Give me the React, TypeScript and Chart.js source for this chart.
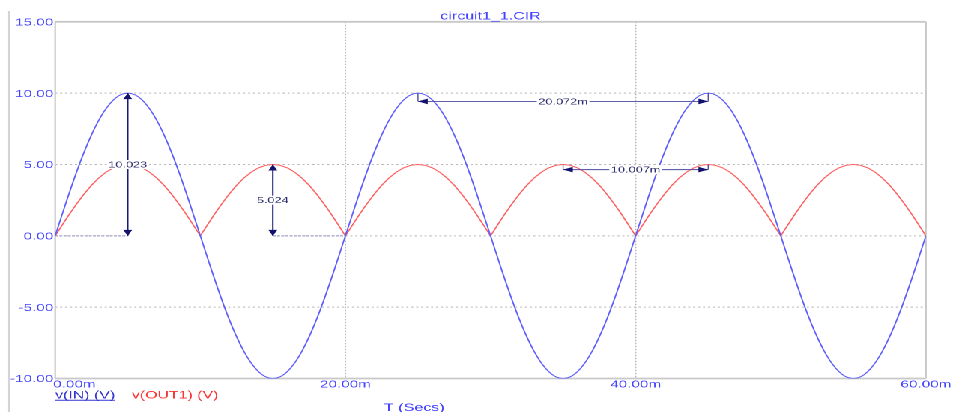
import React, { useEffect, useRef } from "react";
import { Chart, registerables } from "chart.js";
Chart.register(...registerables);

// ---- data (time in ms, voltages in V) ----
const TIME_MS = [
  0, 0.5, 1, 1.5, 2, 2.5, 3, 3.5, 4, 4.5, 5, 5.5, 6, 6.5, 7, 7.5, 8, 8.5, 9, 9.5,
  10, 10.5, 11, 11.5, 12, 12.5, 13, 13.5, 14, 14.5, 15, 15.5, 16, 16.5, 17, 17.5, 18, 18.5, 19, 19.5,
  20, 20.5, 21, 21.5, 22, 22.5, 23, 23.5, 24, 24.5, 25, 25.5, 26, 26.5, 27, 27.5, 28, 28.5, 29, 29.5,
  30, 30.5, 31, 31.5, 32, 32.5, 33, 33.5, 34, 34.5, 35, 35.5, 36, 36.5, 37, 37.5, 38, 38.5, 39, 39.5,
  40, 40.5, 41, 41.5, 42, 42.5, 43, 43.5, 44, 44.5, 45, 45.5, 46, 46.5, 47, 47.5, 48, 48.5, 49, 49.5,
  50, 50.5, 51, 51.5, 52, 52.5, 53, 53.5, 54, 54.5, 55, 55.5, 56, 56.5, 57, 57.5, 58, 58.5, 59, 59.5,
  60,
];

const V_IN = [
  0, 1.56, 3.09, 4.54, 5.88, 7.07, 8.09, 8.91, 9.51, 9.88, 10, 9.88, 9.51, 8.91, 8.09, 7.07, 5.88, 4.54, 3.09, 1.56,
  0, -1.56, -3.09, -4.54, -5.88, -7.07, -8.09, -8.91, -9.51, -9.88, -10, -9.88, -9.51, -8.91, -8.09, -7.07, -5.88, -4.54, -3.09, -1.56,
  0, 1.56, 3.09, 4.54, 5.88, 7.07, 8.09, 8.91, 9.51, 9.88, 10, 9.88, 9.51, 8.91, 8.09, 7.07, 5.88, 4.54, 3.09, 1.56,
  0, -1.56, -3.09, -4.54, -5.88, -7.07, -8.09, -8.91, -9.51, -9.88, -10, -9.88, -9.51, -8.91, -8.09, -7.07, -5.88, -4.54, -3.09, -1.56,
  0, 1.56, 3.09, 4.54, 5.88, 7.07, 8.09, 8.91, 9.51, 9.88, 10, 9.88, 9.51, 8.91, 8.09, 7.07, 5.88, 4.54, 3.09, 1.56,
  0, -1.56, -3.09, -4.54, -5.88, -7.07, -8.09, -8.91, -9.51, -9.88, -10, -9.88, -9.51, -8.91, -8.09, -7.07, -5.88, -4.54, -3.09, -1.56,
  0,
];

const V_OUT1 = [
  0, 0.78, 1.55, 2.27, 2.94, 3.54, 4.05, 4.46, 4.76, 4.94, 5, 4.94, 4.76, 4.46, 4.05, 3.54, 2.94, 2.27, 1.55, 0.78,
  0, 0.78, 1.55, 2.27, 2.94, 3.54, 4.05, 4.46, 4.76, 4.94, 5, 4.94, 4.76, 4.46, 4.05, 3.54, 2.94, 2.27, 1.55, 0.78,
  0, 0.78, 1.55, 2.27, 2.94, 3.54, 4.05, 4.46, 4.76, 4.94, 5, 4.94, 4.76, 4.46, 4.05, 3.54, 2.94, 2.27, 1.55, 0.78,
  0, 0.78, 1.55, 2.27, 2.94, 3.54, 4.05, 4.46, 4.76, 4.94, 5, 4.94, 4.76, 4.46, 4.05, 3.54, 2.94, 2.27, 1.55, 0.78,
  0, 0.78, 1.55, 2.27, 2.94, 3.54, 4.05, 4.46, 4.76, 4.94, 5, 4.94, 4.76, 4.46, 4.05, 3.54, 2.94, 2.27, 1.55, 0.78,
  0, 0.78, 1.55, 2.27, 2.94, 3.54, 4.05, 4.46, 4.76, 4.94, 5, 4.94, 4.76, 4.46, 4.05, 3.54, 2.94, 2.27, 1.55, 0.78,
  0,
];

const X_TICKS = [0, 20, 40, 60];
const X_TICK_LABELS = ["0.00m", "20.00m", "40.00m", "60.00m"];
const Y_TICKS = [15, 10, 5, 0, -5, -10];
const Y_TICK_LABELS = ["15.00", "10.00", "5.00", "0.00", "-5.00", "-10.00"];
const TITLE = "circuit1_1.CIR";
const X_TITLE = "T (Secs)";
const SERIES_NAMES = ["v(IN) (V)", "v(OUT1) (V)"];

// measurement cursors (data units)
const V_MEASURE_LABELS = ["10.023", "5.024"];
const V_MEASURE_X = [5, 15];
const V_MEASURE_FROM = [0, 0];
const V_MEASURE_TO = [10, 5];
const ZERO_REF_SEGMENTS = [[0, 5], [15, 20]];

const H_MEASURE_LABELS = ["20.072m", "10.007m"];
const H_MEASURE_Y = [9.42, 4.64];
const H_MEASURE_FROM = [25, 35];
const H_MEASURE_TO = [45, 45];
const H_MEASURE_PEAK = [10, 5];

// ---- layout ----
const CW = 636;
const CH = 412;
const SX = 953 / CW;
const FONT = "'Liberation Sans', Arial, sans-serif";
const TICK_COLOR = "#4242ff";

function line(ctx: CanvasRenderingContext2D, x1: number, y1: number, x2: number, y2: number) {
  ctx.beginPath();
  ctx.moveTo(x1, y1);
  ctx.lineTo(x2, y2);
  ctx.stroke();
}

function tri(ctx: CanvasRenderingContext2D, pts: number[][]) {
  ctx.beginPath();
  ctx.moveTo(pts[0][0], pts[0][1]);
  ctx.lineTo(pts[1][0], pts[1][1]);
  ctx.lineTo(pts[2][0], pts[2][1]);
  ctx.closePath();
  ctx.fill();
}

function boxedLabel(ctx: CanvasRenderingContext2D, text: string, cx: number, cy: number) {
  ctx.font = `8.5px ${FONT}`;
  const w = ctx.measureText(text).width;
  ctx.fillStyle = "#ffffff";
  ctx.fillRect(cx - w / 2 - 1, cy - 4.5, w + 2, 9);
  ctx.fillStyle = "#30306e";
  ctx.textAlign = "center";
  ctx.textBaseline = "alphabetic";
  ctx.fillText(text, cx, cy + 3);
}

const spicePlugin = {
  id: "spiceDecor",
  beforeDatasetsDraw(chart: any) {
    const { ctx, chartArea: a } = chart;
    const xs = chart.scales.x;
    const ys = chart.scales.y;
    ctx.save();
    // outer frame line
    ctx.strokeStyle = "#d4d4d4";
    ctx.lineWidth = 1.1;
    line(ctx, 6, 11, 6, CH);

    // horizontal dotted grid
    ctx.strokeStyle = "#b6b6b6";
    ctx.lineWidth = 1;
    ctx.setLineDash([1.4, 1.9]);
    for (const v of Y_TICKS) {
      if (v === Y_TICKS[0] || v === Y_TICKS[Y_TICKS.length - 1]) continue;
      const py = ys.getPixelForValue(v);
      if (v === 0) {
        line(ctx, xs.getPixelForValue(20), py, a.right, py);
      } else {
        line(ctx, a.left, py, a.right, py);
      }
    }
    // vertical dotted grid
    ctx.setLineDash([1.5, 1.5]);
    for (const v of X_TICKS) {
      if (v === X_TICKS[0] || v === X_TICKS[X_TICKS.length - 1]) continue;
      const px = xs.getPixelForValue(v);
      line(ctx, px, a.top, px, a.bottom);
    }
    // zero reference segments of the cursors
    ctx.strokeStyle = "#8a8ab6";
    ctx.setLineDash([2, 0.8]);
    const p0 = ys.getPixelForValue(0);
    for (const [s, e] of ZERO_REF_SEGMENTS) {
      line(ctx, xs.getPixelForValue(s), p0, xs.getPixelForValue(e), p0);
    }
    ctx.setLineDash([]);

    // plot frame
    ctx.strokeStyle = "#c8c8c8";
    ctx.lineWidth = 1.8;
    line(ctx, a.left, a.top, a.right, a.top);
    line(ctx, a.left, a.bottom, a.right, a.bottom);
    ctx.lineWidth = 1.1;
    line(ctx, a.left, a.top, a.left, a.bottom);
    line(ctx, a.right, a.top, a.right, a.bottom);
    ctx.restore();
  },
  afterDatasetsDraw(chart: any) {
    const { ctx, chartArea: a } = chart;
    const xs = chart.scales.x;
    const ys = chart.scales.y;
    ctx.save();

    // vertical measurement arrows
    for (let i = 0; i < V_MEASURE_X.length; i++) {
      const px = xs.getPixelForValue(V_MEASURE_X[i]);
      const pA = ys.getPixelForValue(V_MEASURE_FROM[i]);
      const pB = ys.getPixelForValue(V_MEASURE_TO[i]);
      ctx.strokeStyle = "#1a1a78";
      ctx.fillStyle = "#12126e";
      ctx.lineWidth = 1;
      line(ctx, px, pA, px, pB);
      tri(ctx, [[px, pB], [px - 3, pB + 6], [px + 3, pB + 6]]);
      tri(ctx, [[px, pA], [px - 3, pA - 6], [px + 3, pA - 6]]);
      boxedLabel(ctx, V_MEASURE_LABELS[i], px, (pA + pB) / 2);
    }

    // horizontal measurement arrows
    for (let i = 0; i < H_MEASURE_Y.length; i++) {
      const py = ys.getPixelForValue(H_MEASURE_Y[i]);
      const pk = ys.getPixelForValue(H_MEASURE_PEAK[i]);
      const xA = xs.getPixelForValue(H_MEASURE_FROM[i]);
      const xB = xs.getPixelForValue(H_MEASURE_TO[i]);
      ctx.strokeStyle = "#4a4aa0";
      ctx.lineWidth = 0.9;
      line(ctx, xA, py, xB, py);
      ctx.lineWidth = 0.7;
      line(ctx, xA, pk, xA, py);
      line(ctx, xB, pk, xB, py);
      ctx.fillStyle = "#12126e";
      tri(ctx, [[xA, py], [xA + 6.5, py - 2.8], [xA + 6.5, py + 2.8]]);
      tri(ctx, [[xB, py], [xB - 6.5, py - 2.8], [xB - 6.5, py + 2.8]]);
      boxedLabel(ctx, H_MEASURE_LABELS[i], (xA + xB) / 2, py);
    }

    // y tick labels
    ctx.font = `10.2px ${FONT}`;
    ctx.fillStyle = TICK_COLOR;
    ctx.textAlign = "right";
    ctx.textBaseline = "alphabetic";
    Y_TICKS.forEach((v, i) => {
      ctx.fillText(Y_TICK_LABELS[i], a.left - 1.2, ys.getPixelForValue(v) + 3.7);
    });
    // x tick labels
    X_TICKS.forEach((v, i) => {
      const px = xs.getPixelForValue(v);
      ctx.textAlign = i === 0 ? "left" : "center";
      ctx.fillText(X_TICK_LABELS[i], i === 0 ? px - 1.3 : px, 387.5);
    });

    // title
    ctx.font = `10.7px ${FONT}`;
    ctx.textAlign = "center";
    ctx.fillText(TITLE, (a.left + a.right) / 2, 19.4);

    // x axis title
    ctx.fillText(X_TITLE, 276.5, 411);

    // legend
    ctx.font = `10.6px ${FONT}`;
    ctx.textAlign = "left";
    ctx.fillStyle = "#3535d2";
    ctx.fillText(SERIES_NAMES[0], a.left, 398.3);
    const w0 = ctx.measureText(SERIES_NAMES[0]).width;
    ctx.strokeStyle = "#3535d2";
    ctx.lineWidth = 1;
    line(ctx, a.left, 400.2, a.left + w0, 400.2);
    ctx.fillStyle = "#ff3434";
    ctx.fillText(SERIES_NAMES[1], 88, 398.3);

    ctx.restore();
  },
};

export default function App() {
  const ref = useRef<HTMLCanvasElement>(null);
  useEffect(() => {
    if (!ref.current) return;
    const chart = new Chart(ref.current, {
      type: "line",
      data: {
        datasets: [
          {
            label: SERIES_NAMES[0],
            data: TIME_MS.map((t, i) => ({ x: t, y: V_IN[i] })),
            borderColor: "#5e5eff",
            borderWidth: 0.95,
            pointRadius: 0,
            tension: 0.4,
            fill: false,
            order: 0,
          },
          {
            label: SERIES_NAMES[1],
            data: TIME_MS.map((t, i) => ({ x: t, y: V_OUT1[i] })),
            borderColor: "#ff5e5e",
            borderWidth: 0.95,
            pointRadius: 0,
            tension: 0,
            fill: false,
            order: 1,
          },
        ],
      },
      options: {
        animation: false,
        responsive: false,
        devicePixelRatio: 2,
        events: [],
        layout: { padding: { top: 21.8, right: 18.1, left: 0, bottom: 0 } },
        plugins: {
          legend: { display: false },
          tooltip: { enabled: false },
          title: { display: false },
        },
        scales: {
          x: {
            type: "linear",
            min: 0,
            max: 60,
            ticks: { display: false },
            grid: { display: false },
            border: { display: false },
            afterFit: (s: any) => {
              s.height = 33.5;
            },
          },
          y: {
            type: "linear",
            min: -10,
            max: 15,
            ticks: { display: false, stepSize: 5 },
            grid: { display: false },
            border: { display: false },
            afterFit: (s: any) => {
              s.width = 36.84;
            },
          },
        },
      },
      plugins: [spicePlugin],
    } as any);
    return () => chart.destroy();
  }, []);

  return (
    <div
      style={{
        position: "absolute",
        left: 0,
        top: 0,
        width: CW,
        height: CH,
        transform: `scaleX(${SX})`,
        transformOrigin: "0 0",
        background: "#ffffff",
      }}
    >
      <canvas ref={ref} width={CW} height={CH} style={{ display: "block", width: CW, height: CH }} />
    </div>
  );
}
